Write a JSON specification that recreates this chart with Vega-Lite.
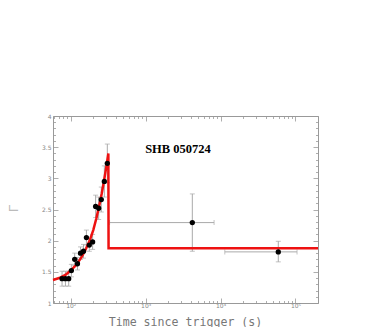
{
  "$schema": "https://vega.github.io/schema/vega-lite/v6.json",
  "width": 265,
  "height": 187,
  "autosize": {"type": "none"},
  "padding": {"left": 53, "top": 116, "right": 64, "bottom": 24},
  "background": "white",
  "config": {
    "view": {"stroke": "#999", "strokeWidth": 1},
    "axis": {"grid": false, "domain": false, "labelFont": "DejaVu Sans", "labelFontSize": 6, "labelColor": "#888", "tickColor": "#999", "tickWidth": 0.8}
  },
  "datasets": {
    "obs": [
      {"t": 76.6, "g": 1.39, "glo": 1.27, "ghi": 1.51},
      {"t": 85, "g": 1.39, "glo": 1.27, "ghi": 1.51},
      {"t": 94, "g": 1.39, "glo": 1.27, "ghi": 1.51},
      {"t": 102, "g": 1.52, "glo": 1.42, "ghi": 1.62},
      {"t": 113, "g": 1.70, "glo": 1.60, "ghi": 1.80},
      {"t": 123, "g": 1.63, "glo": 1.53, "ghi": 1.73},
      {"t": 135, "g": 1.80, "glo": 1.70, "ghi": 1.90},
      {"t": 148, "g": 1.83, "glo": 1.72, "ghi": 1.94},
      {"t": 162, "g": 2.05, "glo": 1.93, "ghi": 2.17},
      {"t": 177, "g": 1.93, "glo": 1.83, "ghi": 2.03},
      {"t": 196, "g": 1.98, "glo": 1.86, "ghi": 2.10},
      {"t": 215, "g": 2.55, "glo": 2.37, "ghi": 2.73},
      {"t": 236, "g": 2.52, "glo": 2.34, "ghi": 2.70},
      {"t": 256, "g": 2.66, "glo": 2.46, "ghi": 2.86},
      {"t": 281, "g": 2.95, "glo": 2.70, "ghi": 3.20},
      {"t": 308, "g": 3.24, "glo": 2.93, "ghi": 3.55},
      {"t": 4200, "g": 2.29, "glo": 1.83, "ghi": 2.75, "tlo": 330, "thi": 8200},
      {"t": 59000, "g": 1.82, "glo": 1.66, "ghi": 1.99, "tlo": 11400, "thi": 105000}
    ],
    "model": [
      {"i": 1, "t": 58, "g": 1.37},
      {"i": 2, "t": 70, "g": 1.40},
      {"i": 3, "t": 85, "g": 1.45},
      {"i": 4, "t": 100, "g": 1.52},
      {"i": 5, "t": 120, "g": 1.62},
      {"i": 6, "t": 140, "g": 1.74},
      {"i": 7, "t": 160, "g": 1.87},
      {"i": 8, "t": 180, "g": 2.01},
      {"i": 9, "t": 200, "g": 2.17},
      {"i": 10, "t": 220, "g": 2.36},
      {"i": 11, "t": 240, "g": 2.56},
      {"i": 12, "t": 260, "g": 2.76},
      {"i": 13, "t": 280, "g": 2.98},
      {"i": 14, "t": 300, "g": 3.20},
      {"i": 15, "t": 318, "g": 3.40},
      {"i": 16, "t": 320, "g": 1.88},
      {"i": 17, "t": 200000, "g": 1.88}
    ],
    "label": [{"t": 2700, "g": 3.47, "text": "SHB 050724"}]
  },
  "layer": [
    {
      "data": {"name": "obs"},
      "mark": {"type": "rule", "color": "#aaa", "strokeWidth": 1},
      "encoding": {
        "x": {"field": "t", "type": "quantitative", "scale": {"type": "log", "domain": [58, 200000], "nice": false},
          "axis": {"orient": "bottom", "title": "Time since trigger (s)", "titleFont": "DejaVu Sans Mono", "titleFontSize": 11.6, "titleFontWeight": "normal", "titleColor": "#777", "titleX": 132, "titleY": 19, "titleBaseline": "middle",
            "values": [60,70,80,90,100,200,300,400,500,600,700,800,900,1000,2000,3000,4000,5000,6000,7000,8000,9000,10000,20000,30000,40000,50000,60000,70000,80000,90000,100000,200000],
            "labelExpr": "datum.value == 100 ? '10²' : datum.value == 1000 ? '10³' : datum.value == 10000 ? '10⁴' : datum.value == 100000 ? '10⁵' : ''",
            "tickSize": {"condition": {"test": "datum.value == 100 || datum.value == 1000 || datum.value == 10000 || datum.value == 100000", "value": -5}, "value": -2.5},
            "labelPadding": 4}},
        "y": {"field": "glo", "type": "quantitative", "scale": {"domain": [1, 4], "nice": false},
          "axis": {"orient": "left", "title": "Γ", "titleFont": "DejaVu Sans", "titleFontSize": 13, "titleFontWeight": "normal", "titleColor": "#bbb", "titleAngle": 270, "titleX": -36, "titleY": 92, "titleAlign": "center", "titleBaseline": "alphabetic",
            "values": [1,1.1,1.2,1.3,1.4,1.5,1.6,1.7,1.8,1.9,2,2.1,2.2,2.3,2.4,2.5,2.6,2.7,2.8,2.9,3,3.1,3.2,3.3,3.4,3.5,3.6,3.7,3.8,3.9,4],
            "labelExpr": "abs(datum.value*2 - round(datum.value*2)) < 0.001 ? format(datum.value, '') : ''",
            "tickSize": {"condition": {"test": "abs(datum.value*2 - round(datum.value*2)) < 0.001", "value": -5}, "value": -2.5},
            "labelPadding": 7}},
        "y2": {"field": "ghi"}
      }
    },
    {
      "data": {"name": "obs"},
      "mark": {"type": "tick", "color": "#aaa", "orient": "horizontal", "size": 5, "thickness": 1},
      "encoding": {
        "x": {"field": "t", "type": "quantitative",
          "axis": {"orient": "top", "title": null, "labels": false,
            "values": [60,70,80,90,100,200,300,400,500,600,700,800,900,1000,2000,3000,4000,5000,6000,7000,8000,9000,10000,20000,30000,40000,50000,60000,70000,80000,90000,100000,200000],
            "tickSize": {"condition": {"test": "datum.value == 100 || datum.value == 1000 || datum.value == 10000 || datum.value == 100000", "value": -5}, "value": -2.5}}},
        "y": {"field": "glo", "type": "quantitative",
          "axis": {"orient": "right", "title": null, "labels": false,
            "values": [1,1.1,1.2,1.3,1.4,1.5,1.6,1.7,1.8,1.9,2,2.1,2.2,2.3,2.4,2.5,2.6,2.7,2.8,2.9,3,3.1,3.2,3.3,3.4,3.5,3.6,3.7,3.8,3.9,4],
            "tickSize": {"condition": {"test": "abs(datum.value*2 - round(datum.value*2)) < 0.001", "value": -5}, "value": -2.5}}}
      }
    },
    {
      "data": {"name": "obs"},
      "mark": {"type": "tick", "color": "#aaa", "orient": "horizontal", "size": 5, "thickness": 1},
      "encoding": {
        "x": {"field": "t", "type": "quantitative", "axis": null},
        "y": {"field": "ghi", "type": "quantitative", "axis": null}
      }
    },
    {
      "data": {"name": "obs"},
      "transform": [{"filter": "isValid(datum.tlo)"}],
      "mark": {"type": "rule", "color": "#aaa", "strokeWidth": 1},
      "encoding": {
        "x": {"field": "tlo", "type": "quantitative", "axis": null},
        "x2": {"field": "thi"},
        "y": {"field": "g", "type": "quantitative", "axis": null}
      }
    },
    {
      "data": {"name": "obs"},
      "transform": [{"filter": "isValid(datum.tlo)"}],
      "mark": {"type": "tick", "color": "#aaa", "orient": "vertical", "size": 5, "thickness": 1},
      "encoding": {
        "x": {"field": "tlo", "type": "quantitative", "axis": null},
        "y": {"field": "g", "type": "quantitative", "axis": null}
      }
    },
    {
      "data": {"name": "obs"},
      "transform": [{"filter": "isValid(datum.tlo)"}],
      "mark": {"type": "tick", "color": "#aaa", "orient": "vertical", "size": 5, "thickness": 1},
      "encoding": {
        "x": {"field": "thi", "type": "quantitative", "axis": null},
        "y": {"field": "g", "type": "quantitative", "axis": null}
      }
    },
    {
      "data": {"name": "model"},
      "mark": {"type": "line", "color": "#ee1111", "strokeWidth": 2.5},
      "encoding": {
        "x": {"field": "t", "type": "quantitative", "axis": null},
        "y": {"field": "g", "type": "quantitative", "axis": null},
        "order": {"field": "i", "type": "quantitative"}
      }
    },
    {
      "data": {"name": "obs"},
      "mark": {"type": "point", "shape": "circle", "filled": true, "color": "black", "opacity": 1, "size": 28},
      "encoding": {
        "x": {"field": "t", "type": "quantitative", "axis": null},
        "y": {"field": "g", "type": "quantitative", "axis": null}
      }
    },
    {
      "data": {"name": "label"},
      "mark": {"type": "text", "font": "Liberation Serif", "fontWeight": "bold", "fontSize": 12.5, "color": "black", "align": "center", "baseline": "middle"},
      "encoding": {
        "x": {"field": "t", "type": "quantitative", "axis": null},
        "y": {"field": "g", "type": "quantitative", "axis": null},
        "text": {"field": "text"}
      }
    }
  ],
  "resolve": {"axis": {"x": "independent", "y": "independent"}}
}
